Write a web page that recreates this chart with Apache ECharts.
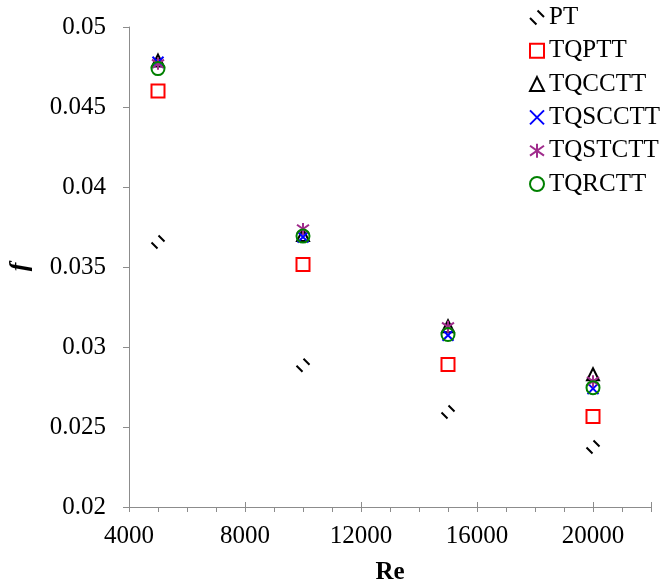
<!DOCTYPE html>
<html>
<head>
<meta charset="utf-8">
<script src="https://cdn.jsdelivr.net/npm/echarts@6/dist/echarts.min.js"></script>
<style>
  html, body { margin: 0; padding: 0; background: #fff; }
  #chart { width: 666px; height: 585px; }
</style>
</head>
<body>
<div id="chart"></div>
<script>
// Re values (x)
const reList = [5000, 10000, 15000, 20000];

// friction factor f for each tube
const ptData = [0.03656, 0.02886, 0.02594, 0.02375];
const tqpttData = [0.0460, 0.03515, 0.0289, 0.02565];
const tqccttData = [0.0479, 0.0370, 0.0313, 0.0283];
const tqscttData = [0.0478, 0.03688, 0.03073, 0.0274];
const tqstctData = [0.0477, 0.03738, 0.03126, 0.02786];
const tqrcttData = [0.0474, 0.03693, 0.03078, 0.02746];

const seriesNames = ['PT', 'TQPTT', 'TQCCTT', 'TQSCCTT', 'TQSTCTT', 'TQRCTT'];

const fontFamily = 'Liberation Serif';
const axisGray = '#8c8c8c';

// pair up x and y
const toPoints = (values) => reList.map((re, i) => [re, values[i]]);

// marker shapes (stroked, not filled)
const slashPath = 'path://M0,7 L6,13 M7,0 L13,6';
const crossPath = 'path://M0,0 L10,10 M10,0 L0,10';
const starPath = 'path://M0,1.5 L10,8.5 M10,1.5 L0,8.5 M5,0 L5,10';

const markerStyle = (color) => ({
    color: 'rgba(0,0,0,0)',
    borderColor: color,
    borderWidth: 2,
    opacity: 1
});

const chart = echarts.init(document.getElementById('chart'));

chart.setOption({
    animation: false,
    textStyle: { fontFamily: fontFamily },
    grid: {
        left: 129,
        top: 27,
        width: 522,
        height: 480,
        outerBoundsMode: 'none'
    },
    legend: {
        orient: 'vertical',
        left: 524,
        top: 0,
        itemWidth: 14,
        itemHeight: 14,
        itemGap: 8.3,
        selectedMode: false,
        textStyle: {
            fontFamily: fontFamily,
            fontSize: 25,
            color: '#000',
            lineHeight: 25
        },
        data: seriesNames
    },
    xAxis: [
        {
            type: 'value',
            position: 'bottom',
            min: 4000,
            max: 22000,
            interval: 4000,
            name: 'Re',
            nameLocation: 'middle',
            nameGap: 53,
            nameTextStyle: {
                fontFamily: fontFamily,
                fontSize: 25,
                fontWeight: 'bold',
                color: '#000'
            },
            axisLine: { lineStyle: { color: axisGray, width: 1 } },
            axisTick: { show: true, length: 5, lineStyle: { color: axisGray } },
            minorTick: { show: true, splitNumber: 4, length: 5, lineStyle: { color: axisGray } },
            axisLabel: {
                fontFamily: fontFamily,
                fontSize: 25,
                color: '#000',
                margin: 17,
                showMaxLabel: false,
                formatter: (v) => String(v)
            },
            splitLine: { show: false }
        },
        {
            // inner half of the cross ticks
            type: 'value',
            position: 'bottom',
            min: 4000,
            max: 22000,
            interval: 4000,
            axisLine: { show: false },
            axisTick: { show: true, inside: true, length: 5, lineStyle: { color: axisGray } },
            axisLabel: { show: false },
            splitLine: { show: false }
        }
    ],
    yAxis: {
        type: 'value',
        min: 0.02,
        max: 0.05,
        interval: 0.005,
        name: 'f',
        nameLocation: 'middle',
        nameGap: 96,
        nameTextStyle: {
            fontFamily: fontFamily,
            fontSize: 26,
            fontWeight: 'bold',
            fontStyle: 'italic',
            color: '#000'
        },
        axisLine: { show: true, lineStyle: { color: axisGray, width: 1 } },
        axisTick: { show: true, length: 6, lineStyle: { color: axisGray } },
        axisLabel: {
            fontFamily: fontFamily,
            fontSize: 25,
            color: '#000',
            margin: 23
        },
        splitLine: { show: false }
    },
    series: [
        {
            name: 'PT',
            type: 'scatter',
            data: toPoints(ptData),
            symbol: slashPath,
            symbolSize: 13,
            itemStyle: markerStyle('#000')
        },
        {
            name: 'TQPTT',
            type: 'scatter',
            data: toPoints(tqpttData),
            symbol: 'rect',
            symbolSize: 13,
            itemStyle: markerStyle('#ff0000')
        },
        {
            name: 'TQCCTT',
            type: 'scatter',
            data: toPoints(tqccttData),
            symbol: 'triangle',
            symbolSize: 12,
            itemStyle: markerStyle('#000')
        },
        {
            name: 'TQSCCTT',
            type: 'scatter',
            data: toPoints(tqscttData),
            symbol: crossPath,
            symbolSize: 11,
            itemStyle: markerStyle('#0000ff')
        },
        {
            name: 'TQSTCTT',
            type: 'scatter',
            data: toPoints(tqstctData),
            symbol: starPath,
            symbolSize: 12,
            itemStyle: markerStyle('#a02c8c')
        },
        {
            name: 'TQRCTT',
            type: 'scatter',
            data: toPoints(tqrcttData),
            symbol: 'circle',
            symbolSize: 13,
            itemStyle: markerStyle('#008000')
        }
    ]
});
</script>
</body>
</html>
